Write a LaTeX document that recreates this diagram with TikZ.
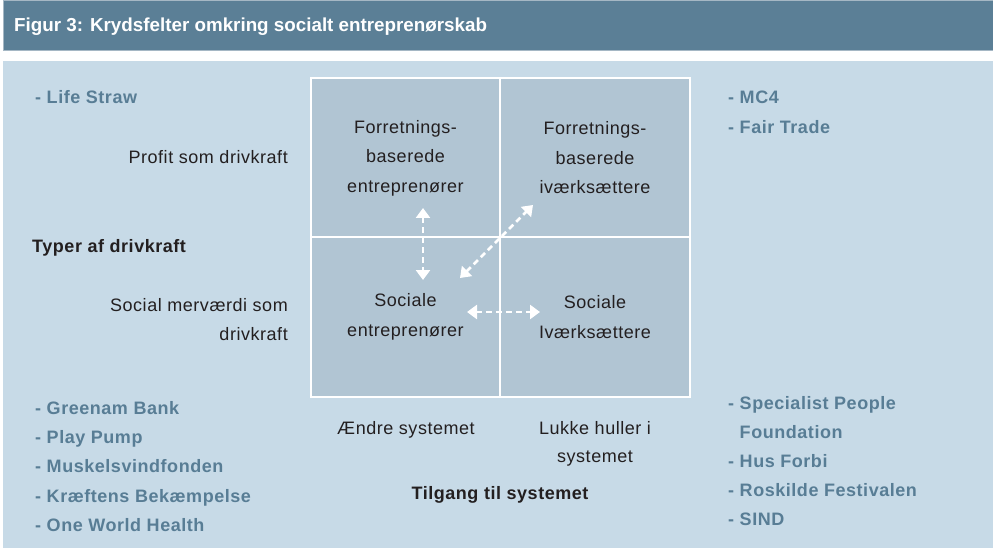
\documentclass[tikz,border=0pt]{standalone}
\usepackage{fontspec}
\setmainfont{Liberation Sans}[LetterSpace=3]
\newfontfamily\titlefont{Liberation Sans}
\usetikzlibrary{arrows.meta}

\definecolor{barblue}{RGB}{91,127,150}
\definecolor{barline}{RGB}{165,183,196}
\definecolor{panel}{RGB}{199,218,231}
\definecolor{cellfill}{RGB}{177,197,211}
\definecolor{itemblue}{RGB}{88,125,149}
\definecolor{darktext}{RGB}{35,31,32}

\begin{document}
\begin{tikzpicture}[x=1pt,y=-1pt,
    cell/.style={draw=white, line width=2pt, fill=cellfill, minimum width=189.5pt,
      minimum height=159.5pt, align=center, text=darktext,
      font=\fontsize{18}{29.5}\selectfont},
    side/.style={text=darktext, font=\fontsize{18}{29}\selectfont, inner sep=0pt},
    item/.style={text=itemblue, font=\bfseries\fontsize{18}{29}\selectfont,
      inner sep=0pt, anchor=base west},
    link/.style={white, line width=2.5pt, dash pattern=on 6pt off 4pt,
      {Triangle[width=14pt,length=10pt]}-{Triangle[width=14pt,length=10pt]}}]
\useasboundingbox (0,0) rectangle (993,548);

% title bar and background
\fill[white] (0,0) rectangle (993,548);
\draw[barline, fill=barblue, line width=1pt] (3,1) rectangle (994,51);
\fill[panel] (3,61) rectangle (993,548);
\node[anchor=base west, inner sep=0pt, text=white,
  font=\titlefont\bfseries\fontsize{18.8}{19}\selectfont]
  (title) at (14,32) {Figur 3: Krydsfelter omkring socialt entreprenørskab};

% the four fields
\node[cell] (fe) at (405.5,158) {Forretnings-\\baserede\\entreprenører};
\node[cell] (fi) at (595,158) {Forretnings-\\baserede\\iværksættere};
\node[cell] (se) at (405.5,317) {Sociale\\entreprenører};
\node[cell] (si) at (595,317) {Sociale\\Iværksættere};

% arrows between fields
\coordinate (v1) at (423,208);
\coordinate (v2) at (423,280);
\coordinate (d1) at (460,278);
\coordinate (d2) at (533,205);
\coordinate (h1) at (467,312);
\coordinate (h2) at (540,312);
\draw[link] (v1) -- (v2);
\draw[link] (d1) -- (d2);
\draw[link] (h1) -- (h2);

% axis texts
\node[side, anchor=base east] (profit) at (288,163.3) {Profit som drivkraft};
\node[side, anchor=base west, font=\bfseries\fontsize{18}{29}\selectfont]
  (typer) at (32,252.7) {Typer af drivkraft};
\node[side, anchor=base east] (social1) at (288,311.7) {Social merværdi som};
\node[side, anchor=base east] (social2) at (288,340) {drivkraft};
\node[side, anchor=base] (aendre) at (406,434) {Ændre systemet};
\node[side, anchor=base] (lukke1) at (595,434) {Lukke huller i};
\node[side, anchor=base] (lukke2) at (595,462.5) {systemet};
\node[side, anchor=base, font=\bfseries\fontsize{18}{29}\selectfont]
  (tilgang) at (500,499) {Tilgang til systemet};

% examples
\node[item] (life) at (35,104) {- Life Straw};
\node[item] (mc) at (728,104) {- MC4};
\node[item] (fair) at (728,133.3) {- Fair Trade};
\foreach \t [count=\i] in {Greenam Bank, Play Pump, Muskelsvindfonden,
    Kræftens Bekæmpelse, One World Health}
  \node[item] (left\i) at (35,384.6+29.4*\i) {- \t};
\node[item] (spec) at (728,409.3) {- Specialist People};
\node[item] (found) at (728,438.3) {\phantom{- }Foundation};
\foreach \t [count=\i from 2] in {Hus Forbi, Roskilde Festivalen, SIND}
  \node[item] (right\i) at (728,409.3+29.1*\i) {- \t};
\end{tikzpicture}
\end{document}
